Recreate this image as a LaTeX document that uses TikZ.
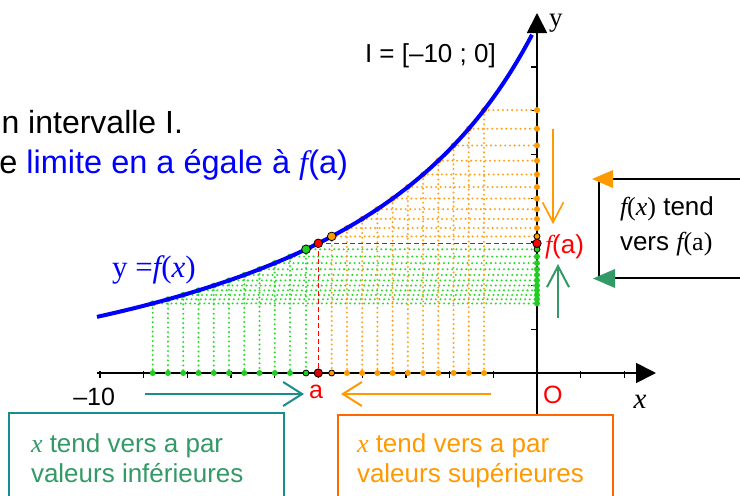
\documentclass[tikz,border=0pt]{standalone}
\usepackage{fontspec}
\setmainfont{Liberation Sans}
\newfontfamily\seriffont{Liberation Serif}
\usetikzlibrary{arrows.meta}
\definecolor{cblue}{HTML}{0000FF}
\definecolor{cgreen}{HTML}{22CC22}
\definecolor{cgreenl}{HTML}{2EDB2E}
\definecolor{corange}{HTML}{FF9900}
\definecolor{corangel}{HTML}{FFA422}
\definecolor{coranged}{HTML}{FF6600}
\definecolor{cred}{HTML}{FF0000}
\definecolor{cteal}{HTML}{1A8C8C}
\definecolor{csea}{HTML}{339966}
\newcommand{\fsz}[1]{\fontsize{#1}{#1}\selectfont}
\newcommand{\mi}[1]{{\seriffont\itshape #1}}
\newcommand{\sr}[1]{{\seriffont #1}}
\begin{document}
\begin{tikzpicture}[x=1pt,y=-1pt,
  txt/.style={inner sep=0pt,outer sep=0pt},
  axisline/.style={line width=1.8pt,black},
  gdots/.style={line width=2.3pt,cgreenl,line cap=round,dash pattern=on 0pt off 4.7pt},
  odots/.style={line width=2.3pt,corangel,line cap=round,dash pattern=on 0pt off 4.7pt},
  reddash/.style={line width=1.3pt,cred,dash pattern=on 5pt off 3pt},
  framebox/.style={line width=2pt},
  barb/.style={-{Straight Barb[length=19pt,width=24pt]}}
]
\useasboundingbox (0,0) rectangle (740,496);
\clip (0,0) rectangle (740,496);

% axes
\coordinate (xs) at (97,373);
\coordinate (xe) at (656,373);
\coordinate (ys) at (537,415);
\coordinate (ye) at (537,13);
\draw[axisline,-{Triangle[length=20pt,width=20pt]}] (xs) -- (xe);
\draw[axisline,-{Triangle[length=20pt,width=20pt]}] (ys) -- (ye);
\foreach \k in {0,...,9,11,12}{
  \draw[line width=1.3pt] ({100+43.7*\k},371) -- ({100+43.7*\k},378);
}
\foreach \k in {1,...,7}{
  \draw[line width=1.3pt] (531,{373-43.7*\k}) -- (537,{373-43.7*\k});
}

% green dotted lines
\foreach \px in {152.7,167.96,183.22,198.48,213.74,229.0,244.26,259.52,274.78,290.04,306}{
  \pgfmathsetmacro\py{462.54-960.96/((756.64-\px)/100)}
  \draw[gdots] (\px,\py) -- (\px,373);
  \draw[gdots] (\px,\py) -- (537,\py);
}
% orange dotted lines
\foreach \k in {0,...,10}{
  \pgfmathsetmacro\px{331.7+15.23*\k}
  \pgfmathsetmacro\py{462.54-960.96/((756.64-\px)/100)}
  \draw[odots] (\px,\py) -- (\px,373);
  \draw[odots] (\px,\py) -- (537,\py);
}
% red dashed
\coordinate (pa) at (318.3,243.3);
\coordinate (pax) at (318.3,373);
\coordinate (pay) at (537,243.3);
\draw[reddash] (pa) -- (pax);
\draw[reddash] (pa) -- (pay);

% dots
\foreach \px in {152.7,167.96,183.22,198.48,213.74,229.0,244.26,259.52,274.78,290.04}{
  \pgfmathsetmacro\py{462.54-960.96/((756.64-\px)/100)}
  \fill[cgreen] (\px,\py) circle (3);
  \fill[cgreen] (\px,373) circle (3);
  \fill[cgreen] (537,\py) circle (3);
}
\foreach \k in {1,...,10}{
  \pgfmathsetmacro\px{331.7+15.23*\k}
  \pgfmathsetmacro\py{462.54-960.96/((756.64-\px)/100)}
  \fill[corange] (\px,\py) circle (3);
  \fill[corange] (\px,373) circle (3);
  \fill[corange] (537,\py) circle (3);
}

% curve
\draw[cblue,line width=4pt] plot[domain=97:532,samples=90] (\x,{462.54-960.96/((756.64-\x)/100)});

% special points
\filldraw[fill=cgreen,draw=black,line width=0.8pt] (306,249.3) circle (4.4);
\filldraw[fill=cred,draw=black,line width=0.8pt] (pa) circle (4.3);
\filldraw[fill=corange,draw=black,line width=0.8pt] (331.7,236.4) circle (4.3);
\filldraw[fill=cgreen,draw=black,line width=0.8pt] (306,373) circle (3);
\filldraw[fill=cred!85!black,draw=black,line width=0.8pt] (pax) circle (4.2);
\filldraw[fill=corange,draw=black,line width=0.8pt] (331.7,373) circle (3);
\filldraw[fill=corange,draw=black,line width=0.8pt] (537,236.4) circle (3);
\filldraw[fill=cgreen,draw=black,line width=0.8pt] (537,249.3) circle (3);
\filldraw[fill=cred,draw=black,line width=0.8pt] (pay) circle (4.2);

% texts top
\node[txt,anchor=base east] (t1) at (183,133) {\fsz{32}n intervalle I.};
\node[txt,anchor=base east] (t2) at (348,173) {\fsz{32.5}e \textcolor{cblue}{limite en a égale à \mi{f}(a)}};
\node[txt,anchor=base west] (intv) at (365,62) {\fsz{26}I = [–10 ; 0]};
\node[txt,anchor=base west] (ylab) at (549,26) {\fsz{27}\sr{y}};
\node[txt,anchor=base west,cblue] (flab) at (112,277) {\fsz{31}\sr{y =}\mi{f}\sr{(}\mi{x}\sr{)}};
\node[txt,anchor=base west,cred] (fa) at (545,253) {\fsz{26}\mi{f}(a)};
\node[txt,anchor=base east] (m10) at (115,405) {\fsz{25}–10};
\node[txt,anchor=base,cred] (alab) at (316,398) {\fsz{25}a};
\node[txt,anchor=base west,cred] (olab) at (543,403) {\fsz{25}O};
\node[txt,anchor=base] (xlab) at (640,408) {\fsz{29}\mi{x}};

% horizontal arrows under axis
\coordinate (ta0) at (145,394);
\coordinate (ta1) at (304,394);
\draw[cteal,line width=2pt,barb] (ta0) -- (ta1);
\coordinate (oa0) at (491,394);
\coordinate (oa1) at (341,394);
\draw[corange,line width=2pt,barb] (oa0) -- (oa1);

% vertical arrows
\coordinate (od0) at (553,129);
\coordinate (od1) at (553,224);
\draw[corange,line width=1.6pt,-{Straight Barb[length=20pt,width=21pt]}] (od0) -- (od1);
\coordinate (gu0) at (558,318);
\coordinate (gu1) at (558,264);
\draw[csea,line width=2pt,-{Straight Barb[length=21pt,width=22pt]}] (gu0) -- (gu1);

% right box
\coordinate (rb1) at (750,179);
\coordinate (rb2) at (599,179);
\coordinate (rb3) at (599,278);
\coordinate (rb4) at (750,278);
\draw[framebox] (rb1) -- (rb2) -- (rb3) -- (rb4);
\fill[corange] (592,179) -- (613,170) -- (613,188) -- cycle;
\fill[csea] (593,278.5) -- (615,269) -- (615,288) -- cycle;
\node[txt,anchor=base west] (rt1) at (620,215) {\fsz{26}\mi{f}\sr{(}\mi{x}\sr{)} tend};
\node[txt,anchor=base west] (rt2) at (620,250) {\fsz{26}vers \mi{f}\sr{(a)}};

% bottom boxes
\draw[cteal,line width=2pt] (9,413) rectangle (284,505);
\node[txt,anchor=base west,csea] (lb1) at (31,452) {\fsz{26}\mi{x} tend vers a par};
\node[txt,anchor=base west,csea] (lb2) at (31,482) {\fsz{26}valeurs inférieures};
\draw[coranged,line width=2pt] (338,415) rectangle (613,505);
\node[txt,anchor=base west,corange] (ob1) at (357,452) {\fsz{26}\mi{x} tend vers a par};
\node[txt,anchor=base west,corange] (ob2) at (357,482) {\fsz{26}valeurs supérieures};
\end{tikzpicture}
\end{document}
